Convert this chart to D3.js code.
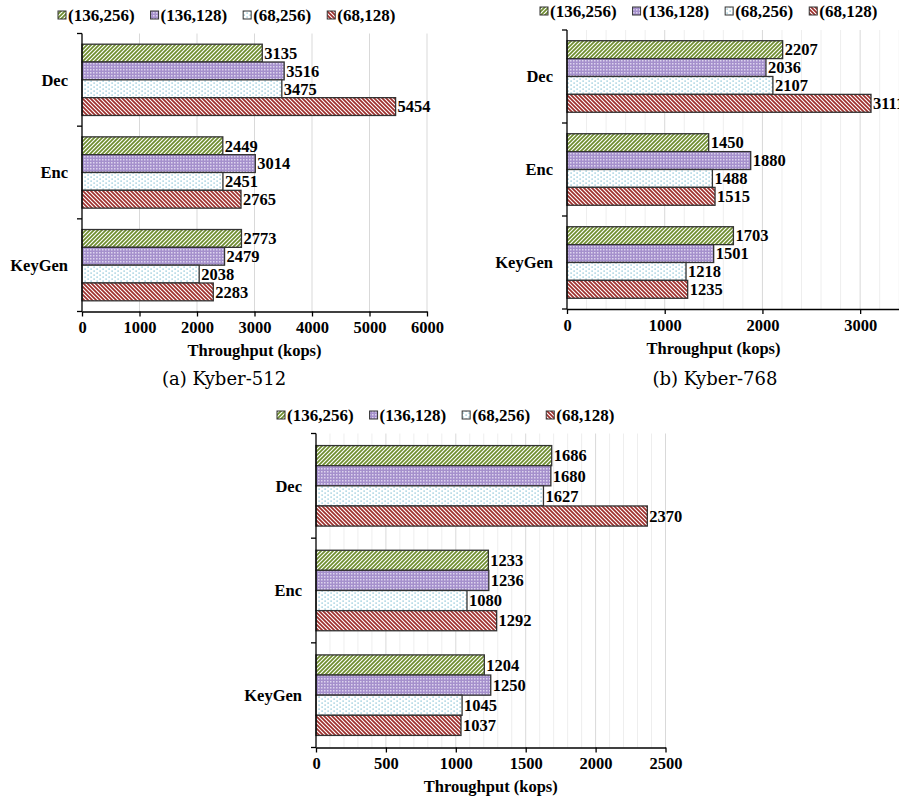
<!DOCTYPE html>
<html lang="en">
<head>
<meta charset="UTF-8">
<title>Kyber throughput</title>
<script src="https://d3js.org/d3.v7.min.js"></script>
<style>
  body { margin: 0; padding: 0; background: #fff; }
  svg text { font-family: "Liberation Serif", "Times New Roman", serif; font-weight: bold; fill: #000; }
  svg text.caption { font-family: "DejaVu Serif", serif; font-weight: normal; }
</style>
</head>
<body>
<svg id="chart" width="899" height="808"></svg>
<script>
// data
const ops = ["Dec", "Enc", "KeyGen"];
const series = ["(136,256)", "(136,128)", "(68,256)", "(68,128)"];
const kyber512 = { Dec: [3135, 3516, 3475, 5454], Enc: [2449, 3014, 2451, 2765], KeyGen: [2773, 2479, 2038, 2283] };
const kyber768 = { Dec: [2207, 2036, 2107, 3111], Enc: [1450, 1880, 1488, 1515], KeyGen: [1703, 1501, 1218, 1235] };
const kyber1024 = { Dec: [1686, 1680, 1627, 2370], Enc: [1233, 1236, 1080, 1292], KeyGen: [1204, 1250, 1045, 1037] };
const ticks512 = [0, 1000, 2000, 3000, 4000, 5000, 6000];
const ticks768 = [0, 1000, 2000, 3000];
const ticks1024 = [0, 500, 1000, 1500, 2000, 2500];

const svg = d3.select("#chart");
const defs = svg.append("defs");

// fill patterns
function hatch(id, color, dir) {
  const p = defs.append("pattern").attr("id", id).attr("patternUnits", "userSpaceOnUse")
    .attr("width", 4).attr("height", 4);
  p.append("rect").attr("width", 4).attr("height", 4).attr("fill", "#fff");
  const d = dir > 0 ? "M-1,1 l2,-2 M0,4 l4,-4 M3,5 l2,-2" : "M-1,3 l2,2 M0,0 l4,4 M3,-1 l2,2";
  p.append("path").attr("d", d).attr("stroke", color).attr("stroke-width", 1.7);
}
hatch("pGreen", "#6e8d2e", 1);
hatch("pRed", "#9e2f2c", -1);
{
  // lavender with light specks
  const p = defs.append("pattern").attr("id", "pPurple").attr("patternUnits", "userSpaceOnUse")
    .attr("width", 3).attr("height", 3);
  p.append("rect").attr("width", 3).attr("height", 3).attr("fill", "#a590cc");
  p.append("rect").attr("width", 1.5).attr("height", 1.5).attr("fill", "#ddd4ee");
}
{
  // white with sparse blue dots
  const p = defs.append("pattern").attr("id", "pBlue").attr("patternUnits", "userSpaceOnUse")
    .attr("width", 6).attr("height", 4);
  p.append("rect").attr("width", 6).attr("height", 4).attr("fill", "#fff");
  p.append("rect").attr("x", 0.5).attr("y", 0.5).attr("width", 1.2).attr("height", 1.2).attr("fill", "#73b9cf");
  p.append("rect").attr("x", 3.5).attr("y", 2.5).attr("width", 1.2).attr("height", 1.2).attr("fill", "#73b9cf");
}
const fills = ["url(#pGreen)", "url(#pPurple)", "url(#pBlue)", "url(#pRed)"];

function drawPanel(cfg) {
  const g = svg.append("g");
  const x = d3.scaleLinear().domain([0, cfg.max]).range([cfg.x0, cfg.x1]);
  const y = d3.scaleBand().domain(ops).range([cfg.y0, cfg.y1]);
  const inner = d3.scaleBand().domain(series).range([0, y.bandwidth()]).paddingOuter(cfg.pad);

  // gridlines
  const minor = d3.range(cfg.minor, cfg.max + 1, cfg.minor).filter(v => v % cfg.major !== 0);
  g.selectAll(".minor").data(minor).enter().append("line")
    .attr("x1", d => x(d)).attr("x2", d => x(d))
    .attr("y1", cfg.y0).attr("y2", cfg.y1)
    .attr("stroke", "#eeeeee").attr("stroke-width", 1);
  g.selectAll(".major").data(cfg.ticks.slice(1)).enter().append("line")
    .attr("x1", d => x(d)).attr("x2", d => x(d))
    .attr("y1", cfg.y0).attr("y2", cfg.y1)
    .attr("stroke", "#d9d9d9").attr("stroke-width", 1);

  // bars
  ops.forEach(op => {
    cfg.data[op].forEach((v, i) => {
      const by = y(op) + inner(series[i]);
      g.append("rect")
        .attr("x", x(0)).attr("y", by)
        .attr("width", x(v) - x(0)).attr("height", inner.bandwidth())
        .attr("fill", fills[i]).attr("stroke", "#333").attr("stroke-width", 1.3);
      g.append("text")
        .attr("x", x(v) + 2).attr("y", by + inner.bandwidth() / 2)
        .attr("dy", "0.35em").attr("font-size", 16.5).text(v);
    });
    g.append("text")
      .attr("x", cfg.x0 - 14).attr("y", y(op) + y.bandwidth() / 2)
      .attr("dy", "0.35em").attr("text-anchor", "end").attr("font-size", 16.5).text(op);
  });

  // y axis
  g.append("line").attr("x1", cfg.x0).attr("x2", cfg.x0).attr("y1", cfg.y0).attr("y2", cfg.y1)
    .attr("stroke", "#000").attr("stroke-width", 1.3);
  const bounds = ops.map(o => y(o)).concat([cfg.y1]);
  g.selectAll(".ytick").data(bounds).enter().append("line")
    .attr("x1", cfg.x0 - 5).attr("x2", cfg.x0).attr("y1", d => d).attr("y2", d => d)
    .attr("stroke", "#000").attr("stroke-width", 1.3);

  // x axis
  const ax = g.append("g").attr("transform", `translate(0,${cfg.y1})`)
    .call(d3.axisBottom(x).tickValues(cfg.ticks).tickSize(5).tickSizeOuter(0).tickPadding(5).tickFormat(d3.format("d")));
  ax.select(".domain").attr("stroke", "#000").attr("stroke-width", 1.3);
  ax.selectAll(".tick line").attr("stroke-width", 1.3);
  ax.selectAll("text").attr("font-size", 16.5).attr("font-family", null);

  g.append("text").attr("x", (cfg.x0 + (cfg.titleX1 || cfg.x1)) / 2).attr("y", cfg.y1 + 39)
    .attr("dy", "0.35em").attr("text-anchor", "middle").attr("font-size", 16.5).text("Throughput (kops)");

  // legend
  let lx = cfg.legendX;
  series.forEach((s, i) => {
    g.append("rect").attr("x", lx).attr("y", cfg.legendY - 4).attr("width", 8).attr("height", 8)
      .attr("fill", fills[i]).attr("stroke", "#333").attr("stroke-width", 1);
    const t = g.append("text").attr("x", lx + 10).attr("y", cfg.legendY).attr("dy", "0.35em")
      .attr("font-size", 17).text(s);
    lx += 10 + t.node().getComputedTextLength() + 16;
  });

  if (cfg.caption) {
    g.append("text").attr("class", "caption").attr("x", cfg.captionX).attr("y", cfg.captionY)
      .attr("dy", "0.35em").attr("text-anchor", "middle").attr("font-size", 18).text(cfg.caption);
  }
}

drawPanel({ data: kyber512, max: 6000, ticks: ticks512, major: 1000, minor: 1000,
  x0: 82, x1: 427, y0: 33.5, y1: 311.5, pad: 0.6,
  legendX: 58, legendY: 15, caption: "(a) Kyber-512", captionX: 224, captionY: 379 });
drawPanel({ data: kyber768, max: 3500, ticks: ticks768, major: 1000, minor: 200,
  x0: 567, x1: 909, titleX1: 860, y0: 30, y1: 309, pad: 0.6,
  legendX: 540, legendY: 11, caption: "(b) Kyber-768", captionX: 715, captionY: 379 });
drawPanel({ data: kyber1024, max: 2500, ticks: ticks1024, major: 500, minor: 100,
  x0: 316, x1: 665.5, y0: 433.5, y1: 747.5, pad: 0.6,
  legendX: 277, legendY: 415 });
</script>
</body>
</html>
